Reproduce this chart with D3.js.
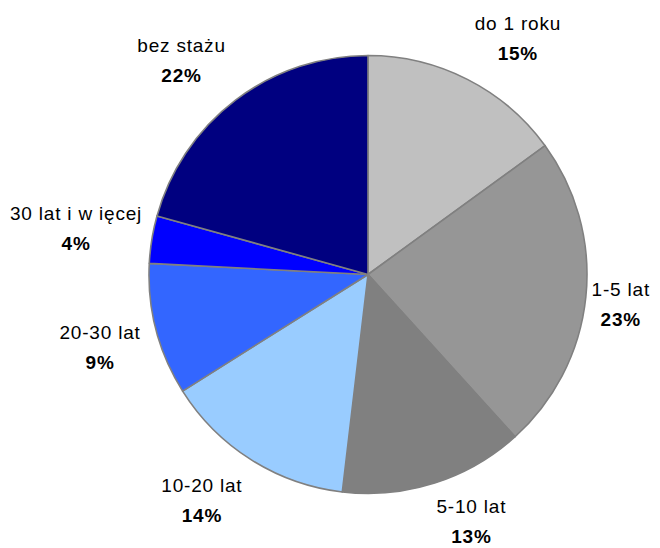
<!DOCTYPE html>
<html>
<head>
<meta charset="utf-8">
<script src="https://cdn.jsdelivr.net/npm/d3@7"></script>
<style>
  body { margin: 0; background: #fff; }
  text { font-family: "Liberation Sans", Arial, sans-serif; font-size: 19px; letter-spacing: 0.8px; fill: #000; }
</style>
</head>
<body>
<svg class="chart" width="660" height="548"></svg>
<script>
// staz pracy - udzial
var categories = ['do 1 roku', '1-5 lat', '5-10 lat', '10-20 lat', '20-30 lat', '30 lat i w ięcej', 'bez stażu'];
var values = [15.0, 23.3, 13.6, 14.2, 9.75, 3.5, 20.7];
var pctLabels = ['15%', '23%', '13%', '14%', '9%', '4%', '22%'];
var colors = ['#c0c0c0', '#969696', '#808080', '#99ccff', '#3366ff', '#0000ff', '#000080'];

var width = 660, height = 548;
var cx = 368, cy = 274.5, radius = 219;
var pad = 10;

var data = categories.map(function(c, i) {
  return { name: c, value: values[i], pct: pctLabels[i], color: colors[i] };
});

var svg = d3.select('.chart');
var chart = svg.append('g')
    .attr('transform', `translate(${cx}, ${cy})`);

var pie = d3.pie()
    .sort(null)
    .value(function(d) { return d.value; });

var arc = d3.arc()
    .innerRadius(0)
    .outerRadius(radius);

var arcs = pie(data);

chart.selectAll('.slice')
    .data(arcs)
    .enter().append('path')
    .attr('class', 'slice')
    .attr('d', arc)
    .attr('fill', function(d) { return d.data.color; })
    .attr('stroke', '#808080')
    .attr('stroke-width', 1.6)
    .attr('stroke-linejoin', 'round');

// labels outside, Excel-like: anchor near the ray, box pushed outward
var gap = 16, halfH = 27;
var clamp = function(v) { return Math.max(-1, Math.min(1, v)); };

var label = chart.selectAll('.label')
    .data(arcs)
    .enter().append('g')
    .attr('class', 'label');

label.append('text')
    .attr('class', 'name')
    .attr('text-anchor', 'middle')
    .text(function(d) { return d.data.name; });

label.append('text')
    .attr('class', 'pct')
    .attr('text-anchor', 'middle')
    .attr('font-weight', 'bold')
    .text(function(d) { return d.data.pct; });

label.each(function(d) {
  var g = d3.select(this);
  var w = Math.max(g.select('.name').node().getComputedTextLength(),
                   g.select('.pct').node().getComputedTextLength());
  var a = (d.startAngle + d.endAngle) / 2;
  var s = Math.sin(a), c = Math.cos(a);
  var px = (radius + gap) * s, py = -(radius + gap) * c;
  var lx = px + clamp(3 * s) * w / 2;
  var ly = py + clamp(-2 * c) * halfH;
  // keep the label inside the picture
  lx = Math.max(pad - cx + w / 2, Math.min(width - pad - cx - w / 2, lx));
  ly = Math.min(height - 5 - cy - 22, ly);
  g.select('.name').attr('x', lx).attr('y', ly - 8);
  g.select('.pct').attr('x', lx).attr('y', ly + 22);
});
</script>
</body>
</html>
